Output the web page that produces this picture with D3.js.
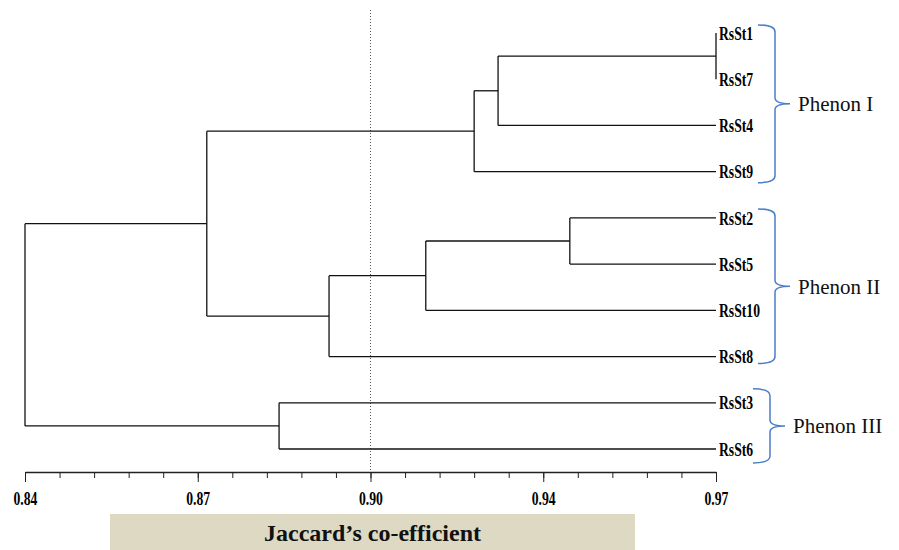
<!DOCTYPE html>
<html>
<head>
<meta charset="utf-8">
<script src="https://cdn.jsdelivr.net/npm/d3@7"></script>
<style>
  body { margin: 0; background: #fff; }
  svg { display: block; }
</style>
</head>
<body>
<div class="vis-dendro"></div>
<script>
// leaves top to bottom
const leafNames = ["RsSt1", "RsSt7", "RsSt4", "RsSt9", "RsSt2", "RsSt5", "RsSt10", "RsSt8", "RsSt3", "RsSt6"];

// merges, in order; merge i becomes node "n" + (i + 1)
const mergeChildren = [
  ["RsSt1", "RsSt7"],
  ["n1", "RsSt4"],
  ["n2", "RsSt9"],
  ["RsSt2", "RsSt5"],
  ["n4", "RsSt10"],
  ["n5", "RsSt8"],
  ["RsSt3", "RsSt6"],
  ["n3", "n6"],
  ["n8", "n7"]
];
const mergeSimilarity = [0.97, 0.929, 0.9245, 0.9425, 0.9154, 0.8972, 0.8878, 0.8742, 0.84];

const cutOffValue = 0.905;
const axisDomain = [0.84, 0.97];
const tickLabels = ["0.84", "0.87", "0.90", "0.94", "0.97"];
const axisTitle = "Jaccard\u2019s co-efficient";

const phenonNames = ["Phenon I", "Phenon II", "Phenon III"];
const phenonFirst = ["RsSt1", "RsSt2", "RsSt3"];
const phenonLast = ["RsSt9", "RsSt8", "RsSt6"];

const width = 899, height = 550;
const serif = "'Liberation Serif', 'Times New Roman', serif";

const svg = d3.select(".vis-dendro")
  .append("svg")
  .attr("width", width)
  .attr("height", height);

const x = d3.scaleLinear().domain(axisDomain).range([25, 716]);
const leafTop = 33, leafBottom = 449;
const leafStep = (leafBottom - leafTop) / (leafNames.length - 1);

// build the tree
const nodes = {};
leafNames.forEach((n) => { nodes[n] = { name: n, sim: axisDomain[1] }; });
mergeChildren.forEach((c, i) => {
  const id = "n" + (i + 1);
  nodes[id] = { name: id, sim: mergeSimilarity[i], children: c.map((k) => nodes[k]) };
});
const root = d3.hierarchy(nodes["n" + mergeChildren.length]);
d3.cluster().nodeSize([leafStep, 1]).separation(() => 1)(root);

const firstLeafX = d3.min(root.leaves(), (d) => d.x);
const yOf = (d) => leafTop + d.x - firstLeafX;
const leafY = {};
root.leaves().forEach((d) => { leafY[d.data.name] = yOf(d); });

// cut-off dotted line
svg.append("line")
  .attr("x1", x(cutOffValue)).attr("x2", x(cutOffValue))
  .attr("y1", 10).attr("y2", 472)
  .attr("stroke", "#555")
  .attr("stroke-width", 1)
  .attr("stroke-dasharray", "1,2");

// elbows
const tree = svg.append("g")
  .attr("stroke", "#111")
  .attr("stroke-width", 1.3)
  .attr("fill", "none");

root.descendants().filter((d) => d.children).forEach((d) => {
  const ys = d.children.map(yOf);
  tree.append("line")
    .attr("x1", x(d.data.sim)).attr("x2", x(d.data.sim))
    .attr("y1", d3.min(ys)).attr("y2", d3.max(ys));
  d.children.forEach((c) => {
    tree.append("line")
      .attr("x1", x(d.data.sim)).attr("x2", x(c.data.sim))
      .attr("y1", yOf(c)).attr("y2", yOf(c));
  });
});

// leaf labels
svg.selectAll(".leaf")
  .data(root.leaves())
  .enter()
  .append("g")
  .attr("class", "leaf")
  .attr("transform", (d) => "translate(" + (x(d.data.sim) + 3) + "," + yOf(d) + ")")
  .append("text")
  .attr("transform", "scale(0.72,1)")
  .attr("dy", "0.35em")
  .style("font-family", serif)
  .style("font-weight", "bold")
  .style("font-size", "19px")
  .attr("fill", "#000")
  .text((d) => d.data.name);

// phenon brackets
const braceSpine = [775, 775, 770];
const bracePad = [[8, 11], [9, 7], [14, 14]];
phenonNames.forEach((name, i) => {
  const top = leafY[phenonFirst[i]] - bracePad[i][0];
  const bot = leafY[phenonLast[i]] + bracePad[i][1];
  const mid = (top + bot) / 2;
  const s = braceSpine[i], tip = s - 17, out = s + 15;
  const p = d3.path();
  p.moveTo(tip, top);
  p.quadraticCurveTo(s, top, s, top + 7);
  p.lineTo(s, mid - 6);
  p.quadraticCurveTo(s, mid, out, mid);
  p.quadraticCurveTo(s, mid, s, mid + 6);
  p.lineTo(s, bot - 7);
  p.quadraticCurveTo(s, bot, tip, bot);
  svg.append("path")
    .attr("d", p.toString())
    .attr("fill", "none")
    .attr("stroke", "#4a7ec8")
    .attr("stroke-width", 1.5);
  svg.append("text")
    .attr("x", out + 8)
    .attr("y", mid)
    .attr("dy", "0.35em")
    .style("font-family", serif)
    .style("font-size", "21px")
    .attr("fill", "#111")
    .text(name);
});

// axis
const allTicks = d3.range(21).map((i) => axisDomain[0] + i * (axisDomain[1] - axisDomain[0]) / 20);
const majorTicks = allTicks.filter((d, i) => i % 5 === 0);

const minorAxis = svg.append("g")
  .attr("transform", "translate(0,472)")
  .call(d3.axisBottom(x).tickValues(allTicks).tickSize(6).tickSizeOuter(0).tickFormat(""));
minorAxis.select(".domain").attr("stroke", "#222").attr("stroke-width", 1.3);
minorAxis.selectAll(".tick line").attr("stroke", "#222");

const majorAxis = svg.append("g")
  .attr("transform", "translate(0,472)")
  .call(d3.axisBottom(x).tickValues(majorTicks).tickSize(10).tickSizeOuter(0)
    .tickFormat((d, i) => tickLabels[i]));
majorAxis.select(".domain").remove();
majorAxis.selectAll(".tick line").attr("stroke", "#222");
majorAxis.selectAll(".tick text")
  .attr("y", 26)
  .attr("dy", "0.35em")
  .attr("transform", "scale(0.72,1)")
  .attr("fill", "#000")
  .style("font-family", serif)
  .style("font-weight", "bold")
  .style("font-size", "19px");

// axis title box
svg.append("rect")
  .attr("x", 110).attr("y", 514)
  .attr("width", 525).attr("height", 36)
  .attr("fill", "#ddd9c3");
svg.append("text")
  .attr("x", 372.5).attr("y", 533)
  .attr("dy", "0.35em")
  .attr("text-anchor", "middle")
  .style("font-family", serif)
  .style("font-weight", "bold")
  .style("font-size", "24px")
  .attr("fill", "#111")
  .text(axisTitle);
</script>
</body>
</html>
